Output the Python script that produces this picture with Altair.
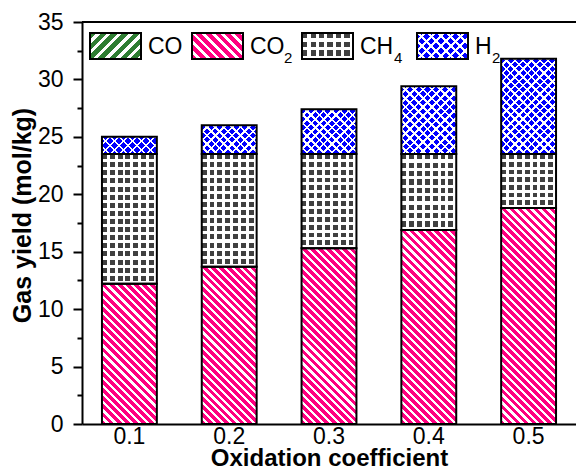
import altair as alt
import pandas as pd

# ---------------- data ----------------
coef = ["0.1", "0.2", "0.3", "0.4", "0.5"]
series = ["CO", "CO2", "CH4", "H2"]
co = [0.0, 0.0, 0.0, 0.0, 0.0]
co2 = [12.2, 13.7, 15.3, 16.9, 18.8]
ch4 = [11.3, 9.8, 8.2, 6.6, 4.7]
h2 = [1.5, 2.5, 3.9, 5.9, 8.3]
legend_main = ["CO", "CO", "CH", "H"]
legend_sub = ["", "2", "4", "2"]
y_major = [0, 5, 10, 15, 20, 25, 30, 35]
y_minor_step = 2.5
y_title = "Gas yield (mol/kg)"
x_title = "Oxidation coefficient"

# ---------------- layout / style ----------------
W, H = 494, 402
YMAX = 35
PAD_I, PAD_O = 0.45, 0.2
STEP = W / (len(coef) - PAD_I + 2 * PAD_O)
BW = STEP * (1 - PAD_I)
PX_PER_UNIT = H / YMAX
FONT = "Liberation Sans"
PINK, GREEN, BLUE, GRAY = "#FF0080", "#2E7D32", "#0000FF", "#404040"
CLEAR = "transparent"

values = {"CO": co, "CO2": co2, "CH4": ch4, "H2": h2}
rows = []
for i, c in enumerate(coef):
    base = 0.0
    for s in series:
        v = values[s][i]
        rows.append({"coef": c, "series": s, "value": v, "y0": base, "y1": base + v})
        base += v
df = pd.DataFrame(rows)

xscale = alt.Scale(domain=coef, paddingInner=PAD_I, paddingOuter=PAD_O)
yscale = alt.Scale(domain=[0, YMAX], nice=False, zero=True)


def stops(n, on, off, duty):
    out = []
    for k in range(n):
        a, b, e = k / n, (k + duty) / n, (k + 1) / n
        out += [
            {"color": on, "offset": round(a, 5)},
            {"color": on, "offset": round(b, 5)},
            {"color": off, "offset": round(b, 5)},
            {"color": off, "offset": round(e, 5)},
        ]
    return out


def diag(w, h, period, on, off, duty, down=True):
    c = (w + h) / (w * w + h * h)
    n = max(1, round((w + h) / period))
    if down:
        x1, y1, x2, y2 = 0, 1, w * c, 1 - h * c
    else:
        x1, y1, x2, y2 = 0, 0, w * c, h * c
    return {"gradient": "linear", "x1": x1, "y1": y1, "x2": x2, "y2": y2,
            "stops": stops(n, on, off, duty)}


def cols(w, period, on, off, duty):
    n = max(1, round(w / period))
    return {"gradient": "linear", "x1": 0, "y1": 0, "x2": 1, "y2": 0,
            "stops": stops(n, on, off, duty)}


def rows_g(h, period, on, off, duty):
    n = max(1, round(h / period))
    return {"gradient": "linear", "x1": 0, "y1": 0, "x2": 0, "y2": 1,
            "stops": stops(n, on, off, duty)}


def patterns(s, w, h, big=False):
    p = 1.2 if big else 1.0
    if s == "CO":
        return [diag(w, h, 9 * p, GREEN, "white", 0.6, down=False)]
    if s == "CO2":
        return [diag(w, h, 8 * p, PINK, "white", 0.6, down=True)]
    if s == "CH4":
        return [cols(w, 8, GRAY, "white", 0.62), rows_g(h, 8, CLEAR, "white", 0.62)]
    return [diag(w, h, 8.5 * p, BLUE, "white", 0.7, down=True),
            diag(w, h, 8.5 * p, CLEAR, "white", 0.7, down=False)]


layers = []
# patterned bar segments
for i, c in enumerate(coef):
    for s in series:
        v = values[s][i]
        if v <= 0:
            continue
        for g in patterns(s, BW, v * PX_PER_UNIT):
            layers.append(
                alt.Chart(df)
                .transform_filter(f"datum.coef == '{c}' && datum.series == '{s}'")
                .mark_bar(fill=g, strokeWidth=0)
                .encode(
                    x=alt.X("coef:N", scale=xscale, axis=None),
                    y=alt.Y("y0:Q", scale=yscale, axis=None),
                    y2="y1:Q",
                )
            )

# outlines + axes
tick_test = "abs(datum.value % 5) < 0.001"
outline = (
    alt.Chart(df)
    .transform_filter("datum.value > 0")
    .mark_bar(fillOpacity=0, stroke="black", strokeWidth=2)
    .encode(
        x=alt.X(
            "coef:N",
            scale=xscale,
            axis=alt.Axis(
                title=x_title, labelAngle=0, ticks=False, tickSize=0,
                labelPadding=19, labelBaseline="alphabetic",
                labelFont=FONT, labelFontSize=23, labelColor="black",
                domainColor="black", domainWidth=2,
                titleFont=FONT, titleFontSize=24, titleFontWeight="bold",
                titleColor="black", titleBaseline="alphabetic", titleY=41,
                titlePadding=0,
            ),
        ),
        y=alt.Y(
            "y0:Q",
            scale=yscale,
            axis=alt.Axis(
                values=[k * y_minor_step for k in range(int(YMAX / y_minor_step) + 1)],
                labelExpr=f"{tick_test} ? datum.label : ''",
                tickSize={"condition": {"test": tick_test, "value": 9}, "value": 5},
                tickWidth=2, tickColor="black",
                domainColor="black", domainWidth=2, grid=False,
                labelFont=FONT, labelFontSize=23, labelColor="black",
                labelPadding=10, labelFlush=False, labelOverlap=False,
                title=y_title, titleFont=FONT, titleFontSize=25,
                titleFontWeight="bold", titleColor="black", titleAngle=270,
                titleAlign="center", titleBaseline="middle",
                titleX=-60, titleY=193,
            ),
        ),
        y2="y1:Q",
    )
)
layers.append(outline)

# top frame line
one = pd.DataFrame({"k": [0]})
layers.append(
    alt.Chart(one).mark_rule(color="black", strokeWidth=2)
    .encode(y=alt.YDatum(YMAX, scale=yscale, axis=None))
)

# legend (inside plot, top)
LEG_X = [8, 110, 220, 335]
LEG_W, LEG_Y0, LEG_Y1 = 51, 11, 37
TXT_DX = 58
SUB_DX = [0, 34, 34, 17]
leg_df = pd.DataFrame({"series": series, "main": legend_main, "sub": legend_sub})
for j, s in enumerate(series):
    d = leg_df[leg_df.series == s]
    x0 = LEG_X[j]
    pos = dict(x=alt.value(x0), x2=alt.value(x0 + LEG_W),
               y=alt.value(LEG_Y0), y2=alt.value(LEG_Y1))
    for g in patterns(s, LEG_W, LEG_Y1 - LEG_Y0, big=True):
        layers.append(alt.Chart(d).mark_rect(fill=g, strokeWidth=0).encode(**pos))
    layers.append(alt.Chart(d).mark_rect(fillOpacity=0, stroke="black", strokeWidth=2)
                  .encode(**pos))
    layers.append(
        alt.Chart(d).mark_text(align="left", baseline="alphabetic", font=FONT,
                               fontSize=23, color="black")
        .encode(text="main:N", x=alt.value(x0 + TXT_DX), y=alt.value(32))
    )
    if legend_sub[j]:
        layers.append(
            alt.Chart(d).mark_text(align="left", baseline="alphabetic", font=FONT,
                                   fontSize=15, color="black")
            .encode(text="sub:N", x=alt.value(x0 + TXT_DX + SUB_DX[j]), y=alt.value(41))
        )

chart = (
    alt.layer(*layers)
    .resolve_axis(x="independent", y="independent")
    .properties(
        width=W, height=H,
        autosize=alt.AutoSizeParams(type="none"),
        padding={"left": 82, "top": 22, "right": 0, "bottom": 45},
        background="white",
    )
    .configure_view(stroke=None)
)

chart.save("out.html", embed_options={"renderer": "svg", "actions": False})
